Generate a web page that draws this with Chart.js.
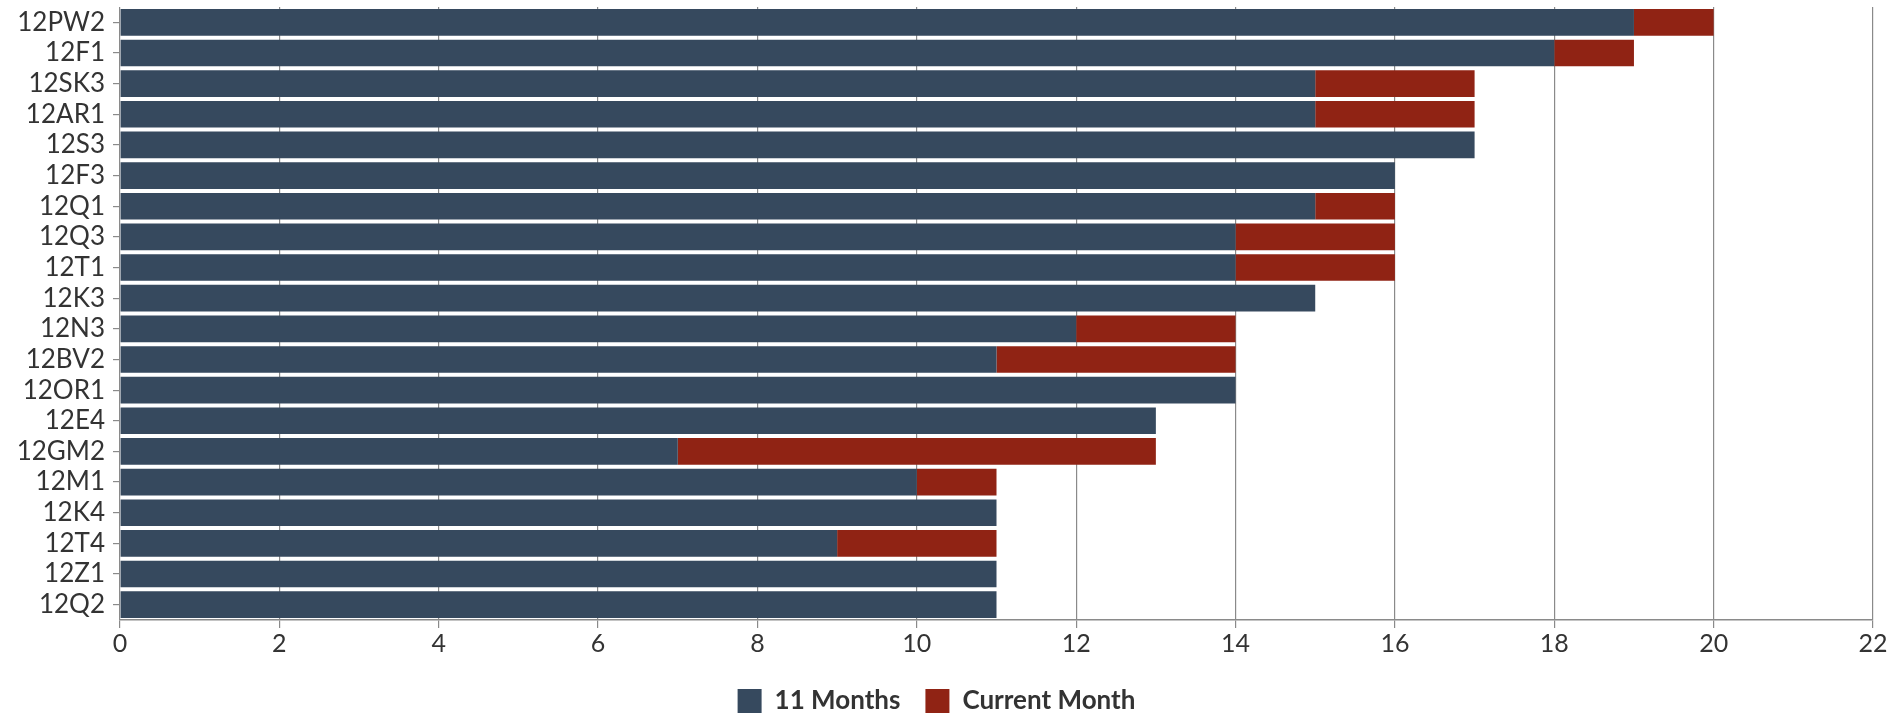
<!DOCTYPE html>
<html>
<head>
<meta charset="utf-8">
<script src="https://cdn.jsdelivr.net/npm/chart.js@4"></script>
<style>
  html, body { margin: 0; padding: 0; background: #fff; }
  #wrap { width: 1898px; height: 716px; }
</style>
</head>
<body>
<div id="wrap"><canvas id="chart" width="1898" height="716"></canvas></div>
<script>
"use strict";

const classes = ['12PW2', '12F1', '12SK3', '12AR1', '12S3', '12F3', '12Q1', '12Q3', '12T1', '12K3',
                 '12N3', '12BV2', '12OR1', '12E4', '12GM2', '12M1', '12K4', '12T4', '12Z1', '12Q2'];
const elevenMonths = [19, 18, 15, 15, 17, 16, 15, 14, 14, 15, 12, 11, 14, 13, 7, 10, 11, 9, 11, 11];
const currentMonth = [1, 1, 2, 2, 0, 0, 1, 2, 2, 0, 2, 3, 0, 0, 6, 1, 0, 2, 0, 0];
const xTicks = [0, 2, 4, 6, 8, 10, 12, 14, 16, 18, 20, 22];

const navy = '#36495e';
const brick = '#902314';
const gridGray = '#8a8a8a';
const font_family = "Lato, 'Open Sans', sans-serif";
const legend_gap = 25;

var chart = new Chart(document.getElementById('chart'), {
  type: 'bar',
  data: {
    labels: classes,
    datasets: [
      { label: '11 Months', data: elevenMonths, backgroundColor: navy },
      { label: 'Current Month', data: currentMonth, backgroundColor: brick },
    ],
  },
  options: {
    indexAxis: 'y',
    responsive: false,
    animation: false,
    // negative bottom padding lets the legend row sit lower
    layout: { padding: { top: 7, right: 25, left: 0, bottom: -8 } },
    datasets: { bar: { barPercentage: 0.87, categoryPercentage: 1.0 } },
    scales: {
      x: {
        stacked: true,
        min: 0,
        max: 22,
        afterBuildTicks: (scale) => { scale.ticks = xTicks.map(v => ({ value: v })); },
        afterFit: (scale) => { scale.height = 68 - legend_gap; },
        grid: { color: gridGray, lineWidth: 1.2, tickLength: 8, tickColor: gridGray },
        border: { color: gridGray, width: 1.5 },
        ticks: { color: '#333', padding: 1, font: { family: font_family, size: 25 } },
      },
      y: {
        stacked: true,
        afterFit: (scale) => {
          scale.width = 120;
          scale.paddingTop = 0;
          scale.paddingBottom = 0;
        },
        grid: { display: true, drawOnChartArea: false, offset: false, tickLength: 7, tickColor: gridGray, lineWidth: 1.2 },
        border: { display: false },
        ticks: { color: '#333', padding: 8, autoSkip: false, font: { family: font_family, size: 26 } },
      },
    },
    plugins: {
      tooltip: { enabled: false },
      legend: {
        position: 'bottom',
        labels: {
          boxWidth: 24,
          boxHeight: 24,
          padding: legend_gap,
          color: '#333',
          font: { family: font_family, size: 26, weight: 'bold' },
        },
      },
    },
  },
});
</script>
</body>
</html>
